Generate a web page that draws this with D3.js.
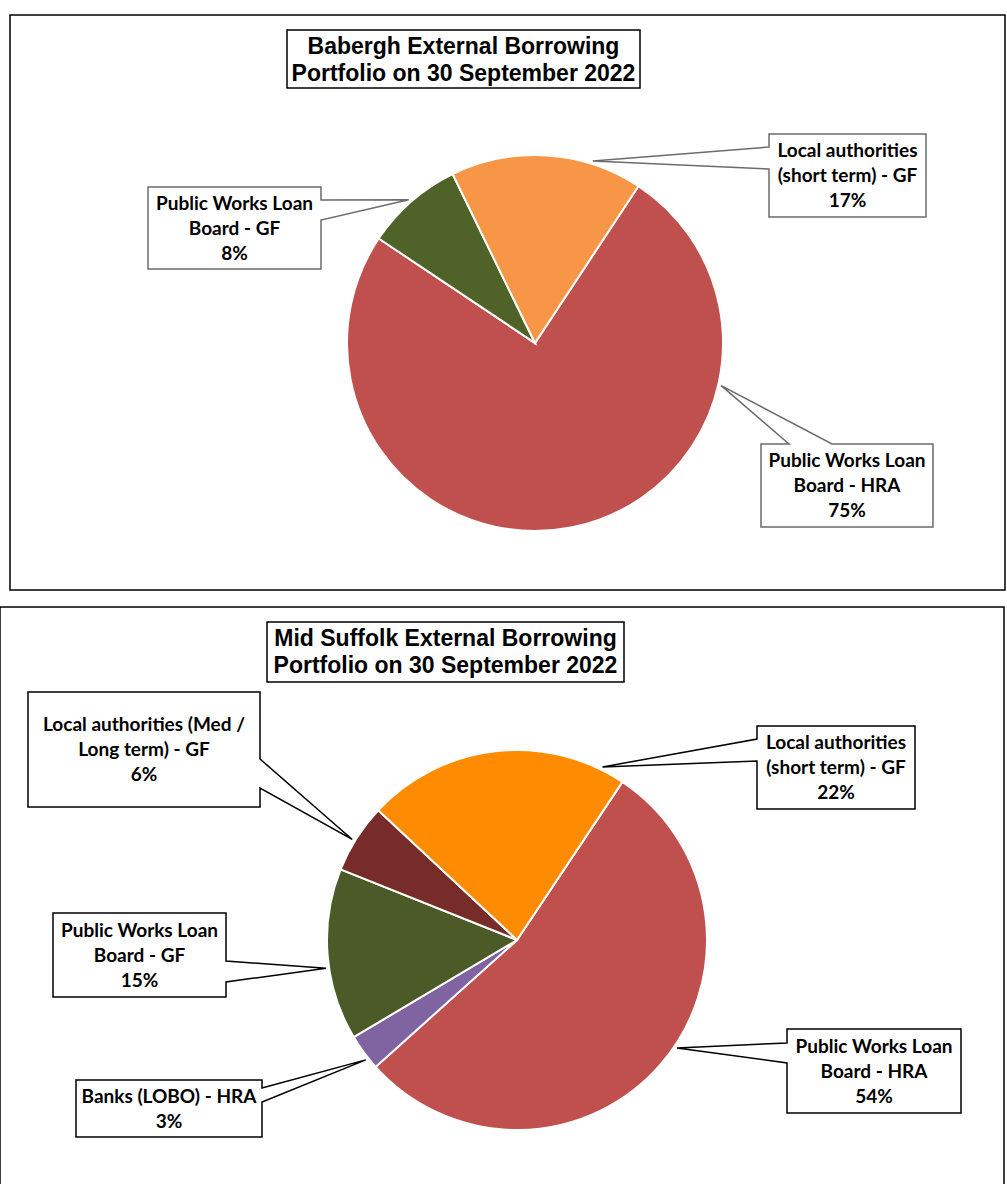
<!DOCTYPE html>
<html>
<head>
<meta charset="utf-8">
<script src="https://cdn.jsdelivr.net/npm/d3@7"></script>
<style>
  body { margin: 0; background: #fff; }
</style>
</head>
<body>
<script>
// data (percent of each portfolio)
var baberghCategories = ["Public Works Loan\nBoard - HRA", "Public Works Loan\nBoard - GF", "Local authorities\n(short term) - GF"];
var baberghValues = [75.1, 8.4, 16.5];
var baberghColors = ["#C0504D", "#4F6228", "#F79646"];

var midCategories = ["Public Works Loan\nBoard - HRA", "Banks (LOBO) - HRA", "Public Works Loan\nBoard - GF", "Local authorities (Med /\nLong term) - GF", "Local authorities\n(short term) - GF"];
var midValues = [54.0, 3.1, 14.6, 5.9, 22.4];
var midColors = ["#C0504D", "#8064A2", "#4B5A27", "#772C2A", "#FF8C00"];

var svg = d3
  .select("body")
  .append("svg")
  .attr("width", 1007)
  .attr("height", 1184);

// callout box layout (box, side of the pointer, pointer base, angle of tip on the pie)
var baberghCallouts = [
  { x: 761, y: 444, w: 172, h: 83, side: "top", b1: 789, b2: 832, tip: 102.9 },
  { x: 148, y: 187, w: 173, h: 82, side: "right", b1: 200, b2: 220, tip: 318.6 },
  { x: 769, y: 134, w: 157, h: 83, side: "left", b1: 147, b2: 169, tip: 17.6 }
];
var midCallouts = [
  { x: 787, y: 1029, w: 174, h: 84, side: "left", b1: 1043, b2: 1063, tip: 124 },
  { x: 76, y: 1080, w: 186, h: 57, side: "right", b1: 1088, b2: 1102, tip: 231.6 },
  { x: 53, y: 913, w: 173, h: 84, side: "right", b1: 961, b2: 982, tip: 261.6 },
  { x: 28, y: 692, w: 232, h: 115, side: "right", b1: 759, b2: 788, tip: 301.4 },
  { x: 757, y: 726, w: 158, h: 83, side: "left", b1: 739, b2: 761, tip: 26.3 }
];

function drawChart(opt) {
  var g = svg.append("g");

  // outer frame
  g.append("rect")
    .attr("x", opt.frame[0])
    .attr("y", opt.frame[1])
    .attr("width", opt.frame[2])
    .attr("height", opt.frame[3])
    .attr("fill", "none")
    .attr("stroke", "#000")
    .attr("stroke-width", 1.5);

  // title
  g.append("rect")
    .attr("x", opt.title[0])
    .attr("y", opt.title[1])
    .attr("width", opt.title[2])
    .attr("height", opt.title[3])
    .attr("fill", "#fff")
    .attr("stroke", "#000")
    .attr("stroke-width", 1.5);
  var tx = opt.title[0] + opt.title[2] / 2;
  opt.titleText.forEach(function (t, i) {
    g.append("text")
      .attr("x", tx)
      .attr("y", opt.title[1] + 16 + i * 27)
      .attr("dy", "0.35em")
      .attr("text-anchor", "middle")
      .attr("font-family", "Arial, Liberation Sans, Helvetica, sans-serif")
      .attr("font-weight", "bold")
      .attr("font-size", 23)
      .text(t);
  });

  var total = d3.sum(opt.values);
  var start = (opt.startDeg * Math.PI) / 180;
  var pie = d3
    .pie()
    .sort(null)
    .startAngle(start)
    .endAngle(start + 2 * Math.PI);
  var arc = d3.arc().innerRadius(0).outerRadius(opt.r);

  var pg = g.append("g").attr("transform", "translate(" + opt.cx + "," + opt.cy + ")");
  pg.selectAll("path")
    .data(pie(opt.values))
    .enter()
    .append("path")
    .attr("d", arc)
    .attr("fill", function (d, i) {
      return opt.colors[i];
    })
    .attr("stroke", "#fff")
    .attr("stroke-width", 2);

  // callouts
  opt.callouts.forEach(function (c, i) {
    var a = (c.tip * Math.PI) / 180;
    var px = opt.cx + Math.sin(a) * (opt.r + 3);
    var py = opt.cy - Math.cos(a) * (opt.r + 3);
    var p = d3.path();
    var x0 = c.x, y0 = c.y, x1 = c.x + c.w, y1 = c.y + c.h;
    if (c.side == "left") {
      p.moveTo(x0, y0); p.lineTo(x1, y0); p.lineTo(x1, y1); p.lineTo(x0, y1);
      p.lineTo(x0, c.b2); p.lineTo(px, py); p.lineTo(x0, c.b1);
    } else if (c.side == "right") {
      p.moveTo(x0, y0); p.lineTo(x1, y0); p.lineTo(x1, c.b1); p.lineTo(px, py);
      p.lineTo(x1, c.b2); p.lineTo(x1, y1); p.lineTo(x0, y1);
    } else {
      p.moveTo(x0, y0); p.lineTo(c.b1, y0); p.lineTo(px, py); p.lineTo(c.b2, y0);
      p.lineTo(x1, y0); p.lineTo(x1, y1); p.lineTo(x0, y1);
    }
    p.closePath();
    g.append("path")
      .attr("d", p.toString())
      .attr("fill", "#fff")
      .attr("stroke", opt.calloutStroke)
      .attr("stroke-width", 1.5)
      .attr("stroke-linejoin", "miter");

    var lines = opt.categories[i].split("\n");
    lines.push(Math.round((opt.values[i] / total) * 100) + "%");
    var mid = c.y + c.h / 2;
    lines.forEach(function (l, j) {
      g.append("text")
        .attr("x", c.x + c.w / 2)
        .attr("y", mid + (j - (lines.length - 1) / 2) * 25)
        .attr("dy", "0.35em")
        .attr("text-anchor", "middle")
        .attr("font-family", "Lato, Open Sans, sans-serif")
        .attr("font-weight", "bold")
        .attr("font-size", 19)
        .attr("fill", "#000")
        .text(l);
    });
  });
}

drawChart({
  frame: [10, 15, 995, 575],
  title: [287, 30, 353, 58],
  titleText: ["Babergh External Borrowing", "Portfolio on 30 September 2022"],
  cx: 535, cy: 343, r: 188, startDeg: 33.4,
  categories: baberghCategories,
  values: baberghValues,
  colors: baberghColors,
  callouts: baberghCallouts,
  calloutStroke: "#6b6b6b"
});

drawChart({
  frame: [0, 607, 1004, 600],
  title: [267, 622, 357, 60],
  titleText: ["Mid Suffolk External Borrowing", "Portfolio on 30 September 2022"],
  cx: 517, cy: 940, r: 190, startDeg: 33.7,
  categories: midCategories,
  values: midValues,
  colors: midColors,
  callouts: midCallouts,
  calloutStroke: "#000"
});
</script>
</body>
</html>
